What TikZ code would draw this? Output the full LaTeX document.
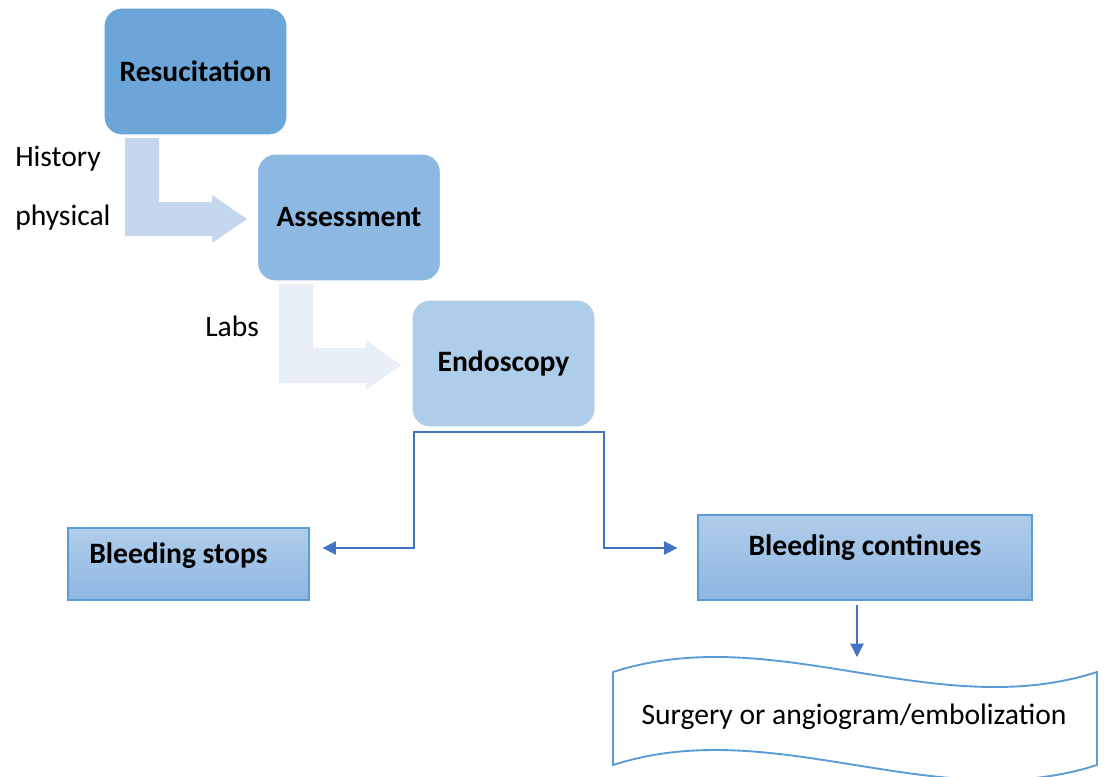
\documentclass[tikz,border=0pt]{standalone}
\usepackage{fontspec}
\setmainfont{Carlito}
\usetikzlibrary{arrows.meta}
\definecolor{cRes}{RGB}{108,166,217}
\definecolor{cAss}{RGB}{141,184,225}
\definecolor{cEnd}{RGB}{174,205,234}
\definecolor{cArA}{RGB}{197,215,236}
\definecolor{cArB}{RGB}{233,239,247}
\definecolor{cTop}{RGB}{176,205,235}
\definecolor{cBot}{RGB}{142,182,224}
\definecolor{cBord}{RGB}{91,155,213}
\definecolor{cConn}{RGB}{68,114,196}
\tikzset{
  stage/.style={rounded corners=13.5pt, draw=white, line width=0.8pt, minimum width=137.25pt, minimum height=95.25pt, inner sep=0pt, font=\fontsize{22.2}{26}\selectfont\bfseries},
  outbox/.style={draw=cBord, line width=0.9pt, top color=cTop, bottom color=cBot, inner sep=0pt},
  txt/.style={inner sep=0pt, font=\fontsize{22.2}{26}\selectfont},
  btxt/.style={inner sep=0pt, font=\fontsize{22.2}{26}\selectfont\bfseries},
  conn/.style={draw=cConn, line width=0.9pt},
  tip/.style={-{Triangle[length=10pt,width=10pt]}}
}
\begin{document}
\begin{tikzpicture}[x=0.75pt,y=-0.75pt]
\useasboundingbox (0,0) rectangle (1104,776);
% bent arrows
\fill[cArA] (125,138) -- (159,138) -- (159,202) -- (212,202) -- (212,195) -- (247,219) -- (212,243) -- (212,236) -- (125,236) -- cycle;
\fill[cArB] (279,284) -- (313,284) -- (313,348) -- (366,348) -- (366,340) -- (401,365) -- (366,390) -- (366,383) -- (279,383) -- cycle;
% stages
\node[stage, fill=cRes] (res) at (195.5,71.5) {Resucitation};
\node[stage, fill=cAss] (ass) at (349,217.5) {Assessment};
\node[stage, fill=cEnd] (endo) at (503.5,363.5) {Endoscopy};
% labels
\node[txt, anchor=west] (hist) at (15,159) {History};
\node[txt, anchor=west] (phys) at (15,218) {physical};
\node[txt, anchor=west] (labs) at (205,326) {Labs};
% outcome boxes
\node[outbox, minimum width=180.75pt, minimum height=54pt] (stops) at (188.5,564) {};
\node[btxt, anchor=west] (stopsT) at (89,556) {Bleeding stops};
\node[outbox, minimum width=250.5pt, minimum height=63.75pt] (cont) at (865,557.5) {};
\node[btxt] (contT) at (865,548) {Bleeding continues};
% wave
\draw[cBord, line width=1.4pt, fill=white] (613,672) .. controls (774,620) and (936,724) .. (1097,672) -- (1097,765) .. controls (936,817) and (774,713) .. (613,765) -- cycle;
\node[txt] (surg) at (854,717) {Surgery or angiogram/embolization};
% connectors
\coordinate (split) at (509,432);
\coordinate (bl) at (414,548);
\coordinate (br) at (604,548);
\coordinate (wtop) at (857,657);
\draw[conn, tip, shorten >=9.75pt] (split) -| (bl) -- (bl -| stops.east);
\draw[conn, tip, shorten >=15pt] (split) -| (br) -- (br -| cont.west);
\draw[conn, tip] ([xshift=-6pt,yshift=-3pt]cont.south) -- (wtop);
\end{tikzpicture}
\end{document}
